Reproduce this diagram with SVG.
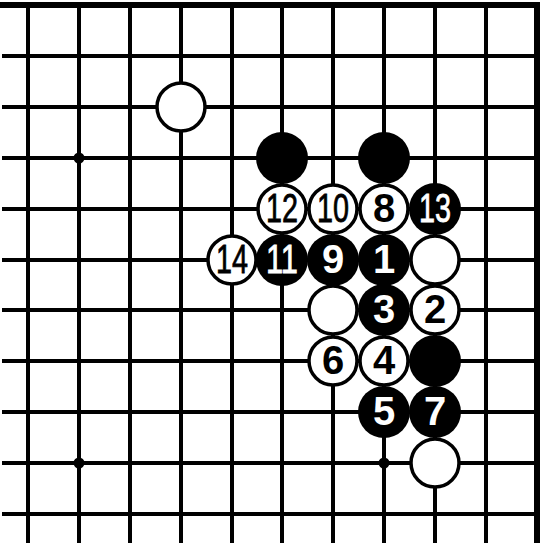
<svg xmlns="http://www.w3.org/2000/svg" width="550" height="543" viewBox="0 0 550 543">
<style>
.g{stroke:#000;stroke-width:4;fill:none}
.e{stroke:#000;stroke-width:6;fill:none}
.b{fill:#000}
.w{fill:#fff;stroke:#000;stroke-width:3.5}
.t{font-family:"Liberation Sans",Arial,sans-serif;font-size:40px;font-weight:bold;text-anchor:middle}
.d{font-weight:normal;stroke-width:0.8px}
.tb{fill:#fff;stroke:#fff}
.tw{fill:#000;stroke:#000}
.t:not(.d){stroke:none}
</style>
<rect width="550" height="543" fill="#fff"/>
<g id="grid">
<path class="g" d="M28 5V543M79 5V543M130 5V543M181 5V543M232 5V543M282 5V543M333 5V543M384 5V543M435 5V543M486 5V543"/>
<path class="g" d="M2 56H537M2 107H537M2 158H537M2 209H537M2 260H537M2 310H537M2 361H537M2 412H537M2 463H537M2 514H537"/>
<path class="e" d="M0 5H540M537 2V543"/>
<circle class="b" cx="79" cy="158" r="5.5"/>
<circle class="b" cx="79" cy="463" r="5.5"/>
<circle class="b" cx="384" cy="463" r="5.5"/>
</g>
<g id="stones">
<circle class="w" cx="181" cy="107" r="24"/>
<circle class="b" cx="282" cy="158" r="26"/>
<circle class="b" cx="384" cy="158" r="26"/>
<g id="s12"><circle class="w" cx="282" cy="209" r="24"/><text class="t d tw" x="282" y="222" textLength="32" lengthAdjust="spacingAndGlyphs">12</text></g>
<g id="s10"><circle class="w" cx="333" cy="209" r="24"/><text class="t d tw" x="333" y="222" textLength="32" lengthAdjust="spacingAndGlyphs">10</text></g>
<g id="s8"><circle class="w" cx="384" cy="209" r="24"/><text class="t tw" x="384" y="222">8</text></g>
<g id="s13"><circle class="b" cx="435" cy="209" r="26"/><text class="t d tb" x="435" y="222" textLength="32" lengthAdjust="spacingAndGlyphs">13</text></g>
<g id="s14"><circle class="w" cx="232" cy="260" r="24"/><text class="t d tw" x="232" y="273" textLength="32" lengthAdjust="spacingAndGlyphs">14</text></g>
<g id="s11"><circle class="b" cx="282" cy="260" r="26"/><text class="t d tb" x="282" y="273" textLength="32" lengthAdjust="spacingAndGlyphs">11</text></g>
<g id="s9"><circle class="b" cx="333" cy="260" r="26"/><text class="t tb" x="333" y="273">9</text></g>
<g id="s1"><circle class="b" cx="384" cy="260" r="26"/><text class="t tb" x="384" y="273">1</text></g>
<circle class="w" cx="435" cy="260" r="24"/>
<circle class="w" cx="333" cy="310" r="24"/>
<g id="s3"><circle class="b" cx="384" cy="310" r="26"/><text class="t tb" x="384" y="323">3</text></g>
<g id="s2"><circle class="w" cx="435" cy="310" r="24"/><text class="t tw" x="435" y="323">2</text></g>
<g id="s6"><circle class="w" cx="333" cy="361" r="24"/><text class="t tw" x="333" y="374">6</text></g>
<g id="s4"><circle class="w" cx="384" cy="361" r="24"/><text class="t tw" x="384" y="374">4</text></g>
<circle class="b" cx="435" cy="361" r="26"/>
<g id="s5"><circle class="b" cx="384" cy="412" r="26"/><text class="t tb" x="384" y="425">5</text></g>
<g id="s7"><circle class="b" cx="435" cy="412" r="26"/><text class="t tb" x="435" y="425">7</text></g>
<circle class="w" cx="435" cy="463" r="24"/>
</g>
</svg>
